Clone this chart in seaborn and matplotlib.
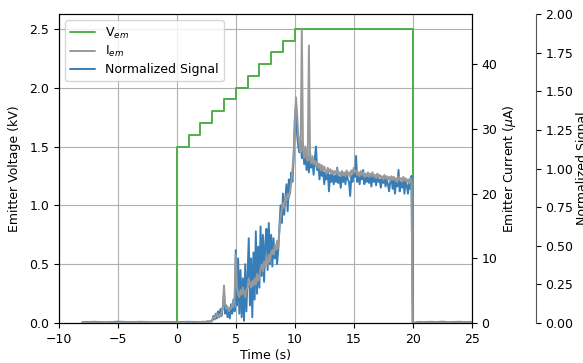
import numpy as np
import pandas as pd
import matplotlib
matplotlib.use("Agg")
import matplotlib.pyplot as plt
import seaborn as sns

# ---------------- data ----------------
# Emitter voltage steps (kV), step-post
v_time = [-8.0, 0.0, 1.0, 2.0, 3.0, 4.0, 5.0, 6.0, 7.0, 8.0, 9.0, 10.0, 20.0, 25.0]
v_kv = [0.0, 1.5, 1.6, 1.7, 1.8, 1.9, 2.0, 2.1, 2.2, 2.3, 2.4, 2.5, 0.0, 0.0]

# baseline before the run
t_pre = [-8.0, -7.0, -6.0, -5.0, -4.0, -3.0, -2.0, -1.0, 0.0, 1.0, 1.9]
i_pre = [0.1, 0.1, 0.1, 0.1, 0.1, 0.1, 0.1, 0.1, 0.1, 0.1, 0.1]
s_pre = [0.006, 0.008, 0.005, 0.009, 0.006, 0.008, 0.005, 0.007, 0.006, 0.008, 0.006]

# active part, sampled every 0.1 s from 2.0 s to 19.9 s
t_act = np.linspace(2.0, 19.9, 180)
i_act = [
    0.1, 0.2, 0.1, 0.2, 0.1, 0.2, 0.3, 0.2, 0.3, 0.2,
    0.5, 0.9, 0.7, 1.1, 1.5, 0.9, 1.3, 1.1, 1.8, 2.2,
    5.8, 2.7, 2.2, 2.5, 1.8, 2.4, 2.2, 2.9, 2.5, 4.0,
    10.6, 5.5, 4.5, 4.0, 5.1, 4.4, 5.5, 4.7, 4.0, 5.1,
    5.5, 6.9, 6.0, 5.5, 6.5, 5.8, 6.9, 6.0, 7.6, 6.5,
    7.3, 8.4, 9.1, 8.0, 9.5, 8.7, 10.0, 9.1, 10.6, 9.5,
    10.9, 11.3, 10.6, 12.0, 11.3, 12.7, 11.6, 14.2, 16.4, 17.5,
    18.6, 17.8, 19.6, 18.9, 20.0, 19.3, 20.4, 21.8, 23.6, 25.8,
    30.0, 34.9, 32.4, 29.1, 27.6, 26.4, 45.5, 26.9, 25.5, 27.3,
    25.8, 25.1, 42.9, 25.5, 24.7, 25.8, 24.6, 25.1, 24.2, 24.9,
    24.0, 24.6, 23.6, 24.4, 23.5, 24.2, 23.6, 23.1, 24.0, 23.3,
    23.8, 23.1, 23.6, 22.9, 23.5, 23.1, 23.8, 22.9, 23.3, 22.7,
    23.5, 22.9, 23.3, 22.7, 23.6, 22.9, 23.3, 22.6, 23.6, 23.1,
    24.0, 23.3, 23.6, 22.9, 23.3, 22.7, 23.5, 22.9, 23.3, 22.6,
    23.1, 22.7, 23.3, 22.6, 23.1, 22.7, 23.3, 22.6, 22.9, 22.4,
    23.1, 22.6, 22.9, 22.4, 22.7, 22.2, 22.9, 22.4, 22.7, 22.2,
    22.6, 22.0, 22.7, 22.2, 22.6, 22.0, 22.4, 21.8, 22.6, 22.2,
    22.4, 21.8, 22.6, 22.0, 22.4, 21.8, 22.2, 21.6, 22.4, 22.0,
]
s_act = [
    0.006, 0.008, 0.005, 0.009, 0.007, 0.008, 0.010, 0.008, 0.012, 0.010,
    0.015, 0.046, 0.023, 0.061, 0.030, 0.076, 0.038, 0.091, 0.046, 0.107,
    0.190, 0.061, 0.114, 0.038, 0.091, 0.030, 0.122, 0.061, 0.152, 0.076,
    0.472, 0.114, 0.419, 0.061, 0.343, 0.038, 0.290, 0.015, 0.381, 0.076,
    0.305, 0.549, 0.114, 0.419, 0.038, 0.457, 0.152, 0.594, 0.190, 0.495,
    0.229, 0.625, 0.305, 0.571, 0.267, 0.518, 0.610, 0.343, 0.648, 0.381,
    0.571, 0.366, 0.549, 0.419, 0.503, 0.381, 0.472, 0.625, 0.762, 0.648,
    0.838, 0.701, 0.800, 0.899, 0.724, 0.930, 0.838, 0.975, 0.914, 1.052,
    1.311, 1.410, 1.219, 1.143, 1.105, 1.181, 1.067, 1.158, 1.029, 1.128,
    0.991, 1.082, 0.975, 1.105, 1.006, 1.052, 0.960, 1.067, 1.143, 0.991,
    1.029, 0.930, 1.006, 0.953, 0.991, 0.899, 0.975, 0.930, 0.991, 0.853,
    0.960, 0.914, 0.975, 0.899, 0.953, 0.914, 1.006, 0.907, 0.945, 0.876,
    0.960, 0.914, 0.953, 0.899, 0.975, 0.930, 0.914, 0.823, 0.953, 0.914,
    0.991, 0.945, 1.082, 0.914, 0.960, 0.899, 0.968, 0.930, 0.991, 0.899,
    0.945, 0.914, 0.968, 0.907, 0.953, 0.884, 0.960, 0.914, 0.945, 0.892,
    0.953, 0.914, 0.930, 0.876, 0.945, 0.907, 0.937, 0.884, 0.930, 0.899,
    0.853, 0.914, 0.945, 0.869, 0.922, 0.838, 0.930, 0.884, 0.991, 0.853,
    0.914, 0.876, 0.930, 0.838, 0.922, 0.892, 0.838, 0.914, 0.869, 0.953,
]

# baseline after the run
t_post = [20.0, 20.5, 21.0, 21.5, 22.0, 22.5, 23.0, 23.5, 24.0, 24.5, 25.0]
i_post = [0.0, 0.1, 0.1, 0.1, 0.1, 0.1, 0.1, 0.1, 0.1, 0.1, 0.1]
s_post = [0.0, 0.007, 0.006, 0.008, 0.006, 0.009, 0.006, 0.007, 0.008, 0.006, 0.007]

# ---------------- tables ----------------
df_v = pd.DataFrame({"t": v_time, "v": v_kv})
df_sig = pd.DataFrame({
    "t": np.concatenate([t_pre, t_act, t_post]),
    "i": np.concatenate([i_pre, i_act, i_post]),
    "s": np.concatenate([s_pre, s_act, s_post]),
})

# ---------------- plot ----------------
sns.set_theme(style="ticks")
plt.rcParams["font.family"] = ["DejaVu Sans"]
plt.rcParams["axes.edgecolor"] = "black"
plt.rcParams["xtick.color"] = "black"
plt.rcParams["ytick.color"] = "black"
plt.rcParams["axes.labelcolor"] = "black"
plt.rcParams["text.color"] = "black"

FS = 9
green = "#4daf4a"
gray = "#999999"
blue = "#377eb8"

fig, ax1 = plt.subplots(figsize=(5.83, 3.63), dpi=100)
fig.subplots_adjust(left=0.101, right=0.809, top=0.961, bottom=0.110)
ax2 = ax1.twinx()
ax3 = ax1.twinx()

sns.lineplot(data=df_v, x="t", y="v", ax=ax1, color=green, lw=1.4,
             drawstyle="steps-post", estimator=None, legend=False)
sns.lineplot(data=df_sig, x="t", y="s", ax=ax3, color=blue, lw=1.4,
             estimator=None, legend=False)
sns.lineplot(data=df_sig, x="t", y="i", ax=ax2, color=gray, lw=1.4,
             estimator=None, legend=False)

ax1.lines[-1].set_label("V$_{em}$")
ax2.lines[-1].set_label("I$_{em}$")
ax3.lines[-1].set_label("Normalized Signal")

ax1.set_zorder(0)
ax3.set_zorder(1)
ax2.set_zorder(2)
ax2.patch.set_visible(False)
ax3.patch.set_visible(False)

ax1.set_xlim(-10, 25)
ax1.set_ylim(0, 2.625)
ax2.set_ylim(0, 47.75)
ax3.set_ylim(0, 2.0)
ax1.set_xticks([-10, -5, 0, 5, 10, 15, 20, 25])
ax1.set_yticks([0.0, 0.5, 1.0, 1.5, 2.0, 2.5])
ax2.set_yticks([0, 10, 20, 30, 40])
ax3.set_yticks([0.0, 0.25, 0.5, 0.75, 1.0, 1.25, 1.5, 1.75, 2.0])
ax3.yaxis.set_major_formatter(matplotlib.ticker.FormatStrFormatter("%.2f"))

ax1.grid(True, color="#b0b0b0", lw=0.8)
ax1.set_xlabel("Time (s)", fontsize=FS, labelpad=2)
ax1.set_ylabel("Emitter Voltage (kV)", fontsize=FS, labelpad=6)
ax2.set_ylabel("Emitter Current ($\\mu$A)", fontsize=FS, labelpad=3)
ax3.set_ylabel("Normalized Signal", fontsize=FS, labelpad=2)

for ax in (ax1, ax2, ax3):
    ax.tick_params(labelsize=FS, length=3.5, width=0.8, pad=3.5, direction="out")
    for sp in ax.spines.values():
        sp.set_linewidth(0.8)
        sp.set_color("black")

ax3.spines["right"].set_position(("axes", 1.155))
ax3.spines["right"].set_color("#555555")
for sp in ("top", "left", "bottom"):
    ax3.spines[sp].set_visible(False)

handles = [ax1.lines[-1], ax2.lines[-1], ax3.lines[-1]]
labels = [h.get_label() for h in handles]
ax2.legend(handles, labels, loc="upper left", fontsize=FS, frameon=True,
           fancybox=True, framealpha=0.8, edgecolor="#cccccc",
           labelspacing=0.3, borderaxespad=0.5)

fig.savefig("out.png", dpi=100)
